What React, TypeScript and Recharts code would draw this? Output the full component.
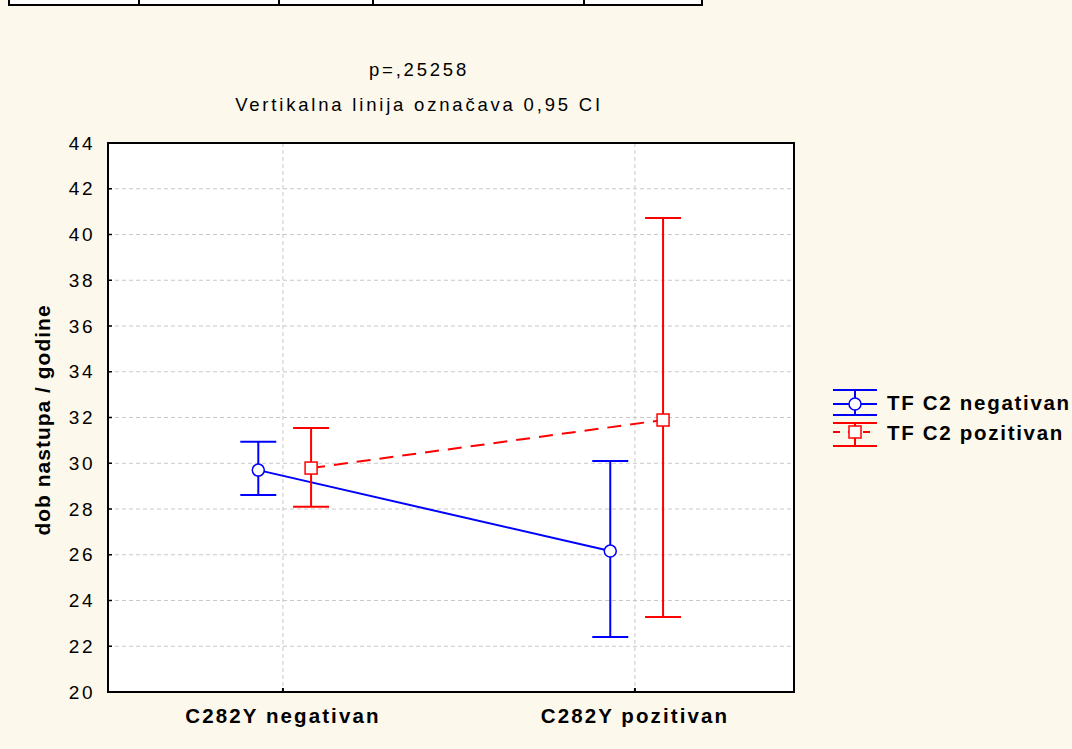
import {
  LineChart,
  Line,
  XAxis,
  YAxis,
  CartesianGrid,
  ErrorBar,
  ReferenceArea,
} from 'recharts';

// categories on the x axis
const groups = ['C282Y negativan', 'C282Y pozitivan'];

// TF C2 negativan: mean and 0,95 CI
const negMean = [29.7, 26.16];
const negLow = [28.61, 22.4];
const negHigh = [30.94, 30.1];

// TF C2 pozitivan: mean and 0,95 CI
const posMean = [29.79, 31.89];
const posLow = [28.1, 23.28];
const posHigh = [31.54, 40.72];

const yTicks = [20, 22, 24, 26, 28, 30, 32, 34, 36, 38, 40, 42, 44];

const BLUE = '#0000ff';
const RED = '#ff0000';
const BG = '#fdf8ec';
const FONT = '"Liberation Sans", Arial, sans-serif';

const build = (mean: number[], low: number[], high: number[], shift: number) =>
  mean.map((m, i) => ({
    x: i + shift,
    y: m,
    err: [m - low[i], high[i] - m],
  }));

const negData = build(negMean, negLow, negHigh, -0.07);
const posData = build(posMean, posLow, posHigh, 0.08);

const CircleDot = (props: any) => {
  const { cx, cy } = props;
  if (cx == null || cy == null) return null;
  return <circle cx={cx} cy={cy} r={6} fill="#fff" stroke={BLUE} strokeWidth={1.5} />;
};

const SquareDot = (props: any) => {
  const { cx, cy } = props;
  if (cx == null || cy == null) return null;
  return <rect x={cx - 6} y={cy - 6} width={12} height={12} fill="#fff" stroke={RED} strokeWidth={1.5} />;
};

const tableCols = [0, 138, 278, 372, 583, 699];

export default function App() {
  return (
    <div
      style={{
        position: 'absolute',
        left: 0,
        top: 0,
        width: 1072,
        height: 749,
        background: BG,
        overflow: 'hidden',
        fontFamily: FONT,
      }}
    >
      {/* cut off table row at the top */}
      <div
        style={{
          position: 'absolute',
          left: 8,
          top: -10,
          width: tableCols[tableCols.length - 1] - 8,
          height: 14,
          background: '#fff',
          border: '2px solid #000',
          borderTop: 'none',
        }}
      >
        {tableCols.slice(1, -1).map((c) => (
          <div
            key={c}
            style={{ position: 'absolute', left: c - 10, top: 0, width: 2, height: 14, background: '#000' }}
          />
        ))}
      </div>

      <div
        style={{
          position: 'absolute',
          left: 0,
          width: 838,
          top: 52,
          textAlign: 'center',
          fontSize: 18.5,
          letterSpacing: 2.8,
          lineHeight: '35px',
          color: '#000',
        }}
      >
        <div>p=,25258</div>
        <div>Vertikalna linija označava 0,95 CI</div>
      </div>

      <div
        style={{
          position: 'absolute',
          left: 43,
          top: 420,
          transform: 'translate(-50%, -50%) rotate(-90deg)',
          whiteSpace: 'nowrap',
          fontSize: 21,
          fontWeight: 'bold',
          letterSpacing: 1,
        }}
      >
        dob nastupa / godine
      </div>

      <div style={{ position: 'absolute', left: 0, top: 0 }}>
        <LineChart
          width={1072}
          height={749}
          margin={{ top: 143, right: 278, bottom: 27, left: 8 }}
        >
          <CartesianGrid stroke="#c8c8c8" strokeDasharray="4 3" fill="#fff" />
          <XAxis
            dataKey="x"
            type="number"
            domain={[-0.497, 1.452]}
            ticks={[0, 1]}
            height={30}
            allowDataOverflow
            tickFormatter={(v: number) => groups[Math.round(v)]}
            axisLine={false}
            tickLine={{ stroke: '#000', strokeWidth: 2 }}
            tickSize={-4}
            tickMargin={20}
            tick={{ fill: '#000', fontSize: 20.5, fontWeight: 'bold', letterSpacing: 2.1, fontFamily: FONT }}
          />
          <YAxis
            type="number"
            domain={[20, 44]}
            ticks={yTicks}
            width={100}
            axisLine={false}
            tickLine={{ stroke: '#000', strokeWidth: 1.5 }}
            tickSize={-4}
            tickMargin={17}
            tick={{ fill: '#000', fontSize: 19, letterSpacing: 2.5, fontFamily: FONT }}
          />
          <ReferenceArea
            x1={-0.497}
            x2={1.452}
            y1={20}
            y2={44}
            fill="none"
            fillOpacity={0}
            stroke="#000"
            strokeWidth={2}
          />
          <Line
            data={negData}
            dataKey="y"
            name="TF C2 negativan"
            stroke={BLUE}
            strokeWidth={2}
            dot={<CircleDot />}
            activeDot={false}
            isAnimationActive={false}
          >
            <ErrorBar dataKey="err" direction="y" width={18} stroke={BLUE} strokeWidth={2} />
          </Line>
          <Line
            data={posData}
            dataKey="y"
            name="TF C2 pozitivan"
            stroke={RED}
            strokeWidth={2}
            strokeDasharray="14 9"
            dot={<SquareDot />}
            activeDot={false}
            isAnimationActive={false}
          >
            <ErrorBar dataKey="err" direction="y" width={18} stroke={RED} strokeWidth={2} />
          </Line>
        </LineChart>
      </div>

      {/* legend */}
      <div style={{ position: 'absolute', left: 833, top: 388 }}>
        <div style={{ display: 'flex', alignItems: 'center', height: 30 }}>
          <svg width={46} height={30}>
            <line x1={0} x2={44} y1={2} y2={2} stroke={BLUE} strokeWidth={2} />
            <line x1={0} x2={44} y1={16} y2={16} stroke={BLUE} strokeWidth={2} />
            <line x1={0} x2={44} y1={27} y2={27} stroke={BLUE} strokeWidth={2} />
            <line x1={22} x2={22} y1={2} y2={27} stroke={BLUE} strokeWidth={2} />
            <circle cx={22} cy={16} r={6} fill="#fff" stroke={BLUE} strokeWidth={1.5} />
          </svg>
          <span style={{ marginLeft: 8, fontSize: 20.5, fontWeight: 'bold', letterSpacing: 1.7 }}>
            TF C2 negativan
          </span>
        </div>
        <div style={{ display: 'flex', alignItems: 'center', height: 30 }}>
          <svg width={46} height={30}>
            <line x1={0} x2={44} y1={5} y2={5} stroke={RED} strokeWidth={2} />
            <line x1={0} x2={44} y1={14} y2={14} stroke={RED} strokeWidth={2} strokeDasharray="7 8" />
            <line x1={0} x2={44} y1={28} y2={28} stroke={RED} strokeWidth={2} />
            <line x1={22} x2={22} y1={5} y2={28} stroke={RED} strokeWidth={2} />
            <rect x={16} y={8} width={12} height={12} fill="#fff" stroke={RED} strokeWidth={1.5} />
          </svg>
          <span style={{ marginLeft: 8, fontSize: 20.5, fontWeight: 'bold', letterSpacing: 1.7 }}>
            TF C2 pozitivan
          </span>
        </div>
      </div>
    </div>
  );
}
